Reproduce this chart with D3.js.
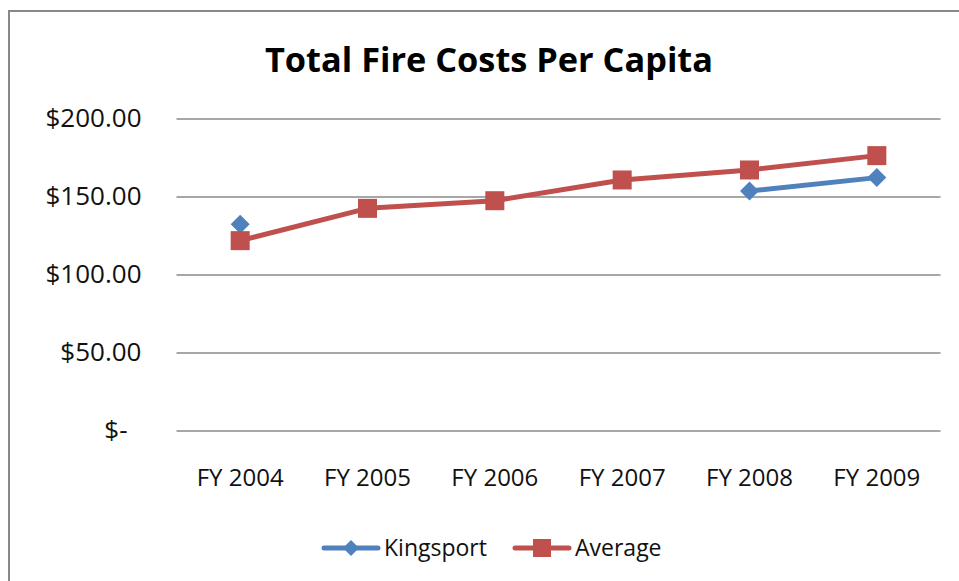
<!DOCTYPE html>
<html>
<head>
<meta charset="utf-8">
<script src="https://cdn.jsdelivr.net/npm/d3@7"></script>
<style>
  html, body { margin: 0; padding: 0; background: #fff; }
  svg { display: block; font-family: "Open Sans", "Noto Sans", sans-serif; }
</style>
</head>
<body>
<svg id="chart" width="959" height="581"></svg>
<script>
// Fiscal years along the horizontal axis
const categories = ["FY 2004", "FY 2005", "FY 2006", "FY 2007", "FY 2008", "FY 2009"];
// Per-capita fire costs; null where no Kingsport figure is reported
const kingsport = [132.2, null, null, null, 153.5, 162.1];
const average = [121.7, 142.4, 147.3, 160.6, 167.0, 176.2];
const yTicks = [0, 50, 100, 150, 200];
const seriesNames = ["Kingsport", "Average"];
const seriesColors = ["#4F81BD", "#C0504D"];

const svg = d3.select("#chart");

// Outer chart frame
svg.append("rect")
  .attr("x", 9).attr("y", 11)
  .attr("width", 1000).attr("height", 1000)
  .attr("fill", "#fff")
  .attr("stroke", "#888").attr("stroke-width", 2);

// Title
svg.append("text")
  .attr("x", 489).attr("y", 72)
  .attr("text-anchor", "middle")
  .attr("font-size", 34).attr("font-weight", 700)
  .attr("textLength", 448).attr("lengthAdjust", "spacingAndGlyphs")
  .attr("fill", "#000")
  .text("Total Fire Costs Per Capita");

const plot = { left: 176.5, right: 940.5, top: 118.5, bottom: 430.5 };

const x = d3.scaleBand().domain(categories).range([plot.left, plot.right]);
const y = d3.scaleLinear().domain([0, 200]).range([plot.bottom, plot.top]);
const cx = c => x(c) + x.bandwidth() / 2;

// Horizontal gridlines with value labels
const money = d3.format("$,.2f");
const yAxis = svg.append("g")
  .attr("transform", `translate(${plot.left},0)`)
  .call(d3.axisLeft(y).tickValues(yTicks)
    .tickSize(-(plot.right - plot.left))
    .tickPadding(35)
    .tickFormat(d => d === 0 ? "$-" : money(d)));
yAxis.select(".domain").remove();
yAxis.selectAll(".tick line").attr("stroke", "#8a8a8a").attr("stroke-width", 1.3);
yAxis.selectAll(".tick text")
  .attr("font-size", 26).attr("fill", "#111")
  .attr("font-family", "Open Sans, sans-serif")
  .attr("dx", d => d === 0 ? -14 : 0);

// Category labels
const xAxis = svg.append("g")
  .attr("transform", `translate(0,${plot.bottom})`)
  .call(d3.axisBottom(x).tickSize(0).tickPadding(38));
xAxis.select(".domain").remove();
xAxis.selectAll(".tick text")
  .attr("font-size", 24).attr("fill", "#111")
  .attr("font-family", "Open Sans, sans-serif");

const line = d3.line()
  .defined(d => d.v != null)
  .x(d => cx(d.c))
  .y(d => y(d.v));

const kData = categories.map((c, i) => ({ c, v: kingsport[i] }));
const aData = categories.map((c, i) => ({ c, v: average[i] }));

const diamond = r => `M0,${-r}L${r},0L0,${r}L${-r},0Z`;

// Kingsport series (diamonds)
svg.append("path").datum(kData)
  .attr("d", line).attr("fill", "none")
  .attr("stroke", seriesColors[0]).attr("stroke-width", 5)
  .attr("stroke-linejoin", "round").attr("stroke-linecap", "round");
svg.append("g").selectAll("path").data(kData.filter(d => d.v != null))
  .join("path")
  .attr("transform", d => `translate(${cx(d.c)},${y(d.v)})`)
  .attr("d", diamond(9.5))
  .attr("fill", seriesColors[0]);

// Average series (squares)
svg.append("path").datum(aData)
  .attr("d", line).attr("fill", "none")
  .attr("stroke", seriesColors[1]).attr("stroke-width", 5)
  .attr("stroke-linejoin", "round").attr("stroke-linecap", "round");
svg.append("g").selectAll("rect").data(aData)
  .join("rect")
  .attr("x", d => cx(d.c) - 9.5).attr("y", d => y(d.v) - 9.5)
  .attr("width", 19).attr("height", 19)
  .attr("fill", seriesColors[1]);

// Legend
const legendY = 548;
const legendItems = [
  { name: seriesNames[0], color: seriesColors[0], x0: 324, marker: "diamond" },
  { name: seriesNames[1], color: seriesColors[1], x0: 515, marker: "square" }
];
const lg = svg.append("g");
legendItems.forEach(it => {
  const g = lg.append("g").attr("transform", `translate(${it.x0},${legendY})`);
  g.append("line").attr("x1", 0).attr("x2", 54).attr("y1", 0).attr("y2", 0)
    .attr("stroke", it.color).attr("stroke-width", 5).attr("stroke-linecap", "round");
  if (it.marker === "diamond") {
    g.append("path").attr("d", diamond(8)).attr("transform", "translate(27,0)").attr("fill", it.color);
  } else {
    g.append("rect").attr("x", 18).attr("y", -9).attr("width", 18).attr("height", 18).attr("fill", it.color);
  }
  g.append("text").attr("x", 60).attr("y", 8)
    .attr("font-size", 23).attr("fill", "#111")
    .text(it.name);
});
</script>
</body>
</html>
